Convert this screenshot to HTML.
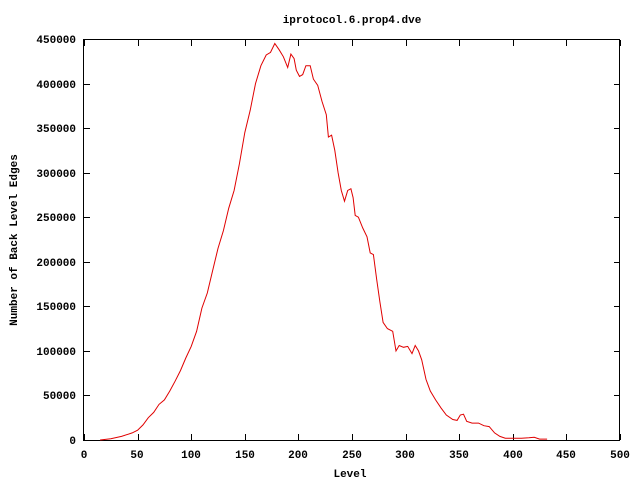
<!DOCTYPE html>
<html><head><style>
html,body{margin:0;padding:0;background:#fff;}
text{font-family:"Liberation Mono",monospace;font-weight:bold;font-size:11px;fill:#000;}
</style></head><body>
<svg width="640" height="480" xmlns="http://www.w3.org/2000/svg">
<rect width="640" height="480" fill="#fff"/>
<text x="352" y="23" text-anchor="middle">iprotocol.6.prop4.dve</text>
<rect x="83.5" y="39.5" width="536" height="401" fill="none" stroke="#000" stroke-width="1"/>
<g id="ticks" stroke="#000" stroke-width="1"></g>
<g text-anchor="end">
<text x="76" y="444">0</text>
<text x="76" y="399">50000</text>
<text x="76" y="355">100000</text>
<text x="76" y="310">150000</text>
<text x="76" y="266">200000</text>
<text x="76" y="221">250000</text>
<text x="76" y="177">300000</text>
<text x="76" y="132">350000</text>
<text x="76" y="88">400000</text>
<text x="76" y="43">450000</text>
</g>
<g text-anchor="middle">
<text x="84" y="458">0</text>
<text x="137" y="458">50</text>
<text x="191" y="458">100</text>
<text x="245" y="458">150</text>
<text x="298" y="458">200</text>
<text x="352" y="458">250</text>
<text x="405" y="458">300</text>
<text x="459" y="458">350</text>
<text x="513" y="458">400</text>
<text x="566" y="458">450</text>
<text x="620" y="458">500</text>
<text x="350" y="477">Level</text>
</g>
<text transform="translate(17,240) rotate(-90)" text-anchor="middle">Number of Back Level Edges</text>
<polyline id="curve" fill="none" stroke="#e00000" stroke-width="1"/>
</svg>
<script>
var X=function(v){return 84+v*536/500;},Y=function(v){return 440-v*401/450000;};
var t=document.getElementById('ticks'),s='';
for(var i=0;i<=500;i+=50){var x=Math.round(X(i))+0.5;s+='<line x1="'+x+'" y1="440" x2="'+x+'" y2="434"/><line x1="'+x+'" y1="40" x2="'+x+'" y2="46"/>';}
for(var j=0;j<=450000;j+=50000){var y=Math.round(Y(j))+0.5;s+='<line x1="84" y1="'+y+'" x2="90" y2="'+y+'"/><line x1="620" y1="'+y+'" x2="614" y2="'+y+'"/>';}
t.innerHTML=s;
var d=[[15,0],[25,1500],[35,4000],[45,8000],[50,11000],[55,17000],[60,25000],[65,31000],[70,40000],[75,45000],[80,55000],[85,66000],[90,78000],[95,92000],[100,105000],[105,122000],[110,148000],[115,165000],[120,190000],[125,215000],[130,235000],[135,260000],[140,280000],[145,310000],[150,345000],[155,370000],[160,400000],[165,420000],[170,432000],[174,435000],[178,445000],[182,438000],[186,430000],[190,418000],[193,433000],[196,428000],[198,415000],[201,408000],[204,410000],[207,420000],[211,420000],[214,405000],[218,398000],[222,380000],[226,365000],[228,340000],[231,342000],[234,325000],[237,300000],[240,280000],[243,268000],[246,280000],[249,282000],[251,272000],[253,252000],[256,250000],[260,238000],[264,228000],[267,210000],[270,208000],[273,180000],[276,155000],[279,132000],[283,125000],[288,122000],[291,100000],[294,106000],[298,104000],[302,105000],[306,97000],[309,106000],[312,100000],[315,90000],[319,68000],[323,55000],[328,45000],[333,36000],[338,28000],[344,23000],[348,22000],[351,28000],[354,29000],[357,21000],[362,19000],[368,19000],[373,16000],[378,15000],[383,8000],[388,4000],[393,2000],[400,2000],[408,2000],[415,2500],[420,3000],[425,1000],[432,1000]];
document.getElementById('curve').setAttribute('points',d.map(function(p){return X(p[0]).toFixed(1)+','+Y(p[1]).toFixed(1);}).join(' '));
</script>
</body></html>
